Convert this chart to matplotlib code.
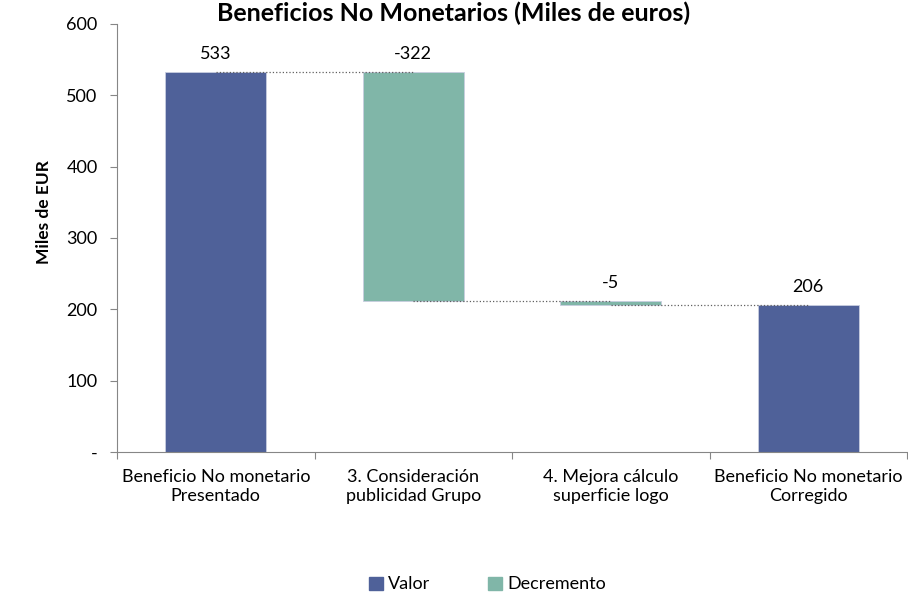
import numpy as np
import matplotlib.pyplot as plt
from matplotlib.patches import Patch

# data
categories = ['Beneficio No monetario\nPresentado', '3. Consideración\npublicidad Grupo',
              '4. Mejora cálculo\nsuperficie logo', 'Beneficio No monetario\nCorregido']
changes = [533, -322, -5, 206]
kinds = ['Valor', 'Decremento', 'Decremento', 'Valor']
labels = ['533', '-322', '-5', '206']
yticks = [0, 100, 200, 300, 400, 500, 600]
yticklabels = ['-', '100', '200', '300', '400', '500', '600']

blue = '#4F6199'
green = '#80B6A8'
colors = {'Valor': blue, 'Decremento': green}

plt.rcParams['font.family'] = ['Lato', 'DejaVu Sans']

# waterfall bottoms / tops
bottoms = []
tops = []
level = 0
for c, k in zip(changes, kinds):
    if k == 'Valor':
        bottoms.append(0)
        tops.append(c)
        level = c
    else:
        new = level + c
        bottoms.append(new)
        tops.append(level)
        level = new

x = np.arange(len(categories))

fig = plt.figure(figsize=(9.08, 5.94), dpi=100)
ax = fig.add_axes([0.1289, 0.2391, 0.8700, 0.7205])

for i in range(len(x)):
    ax.bar(x[i], tops[i] - bottoms[i], bottom=bottoms[i], width=0.51,
           color=colors[kinds[i]], edgecolor='#c8cde0', linewidth=0.6, zorder=2)
    ax.text(x[i], tops[i] + 14, labels[i], ha='center', va='bottom', fontsize=13)

# connectors
levels = [tops[0], bottoms[1], bottoms[2]]
for i, lv in enumerate(levels):
    ax.plot([x[i], x[i + 1]], [lv, lv], color='#606060', linestyle=':', linewidth=0.9, zorder=3)

ax.set_xlim(-0.5, 3.5)
ax.set_ylim(0, 600)
ax.set_yticks(yticks)
ax.set_yticklabels(yticklabels, fontsize=13)
ax.set_xticks([-0.5, 0.5, 1.5, 2.5, 3.5])
ax.set_xticklabels([])
ax.set_xticks(x, minor=True)
ax.set_xticklabels(categories, minor=True, fontsize=13, linespacing=1.25)
ax.tick_params(axis='x', which='minor', length=0, pad=12)
ax.tick_params(axis='x', which='major', length=5, color='#868686')
ax.tick_params(axis='y', length=5, color='#868686', pad=9)
for s in ['top', 'right']:
    ax.spines[s].set_visible(False)
for s in ['left', 'bottom']:
    ax.spines[s].set_color('#868686')

ax.set_ylabel('Miles de EUR', fontsize=12.5, fontweight='bold')
ax.yaxis.set_label_coords(-0.082, 0.56)

fig.text(0.5, 0.997, 'Beneficios No Monetarios (Miles de euros)', ha='center', va='top',
         fontsize=18, fontweight='bold')

handles = [Patch(color=blue, label='Valor'), Patch(color=green, label='Decremento')]
fig.legend(handles=handles, loc='center', bbox_to_anchor=(0.537, 0.016), ncol=2,
           frameon=False, fontsize=13, handlelength=0.75, handleheight=0.75,
           columnspacing=3.2, handletextpad=0.3)

plt.savefig('out.png', dpi=100)
